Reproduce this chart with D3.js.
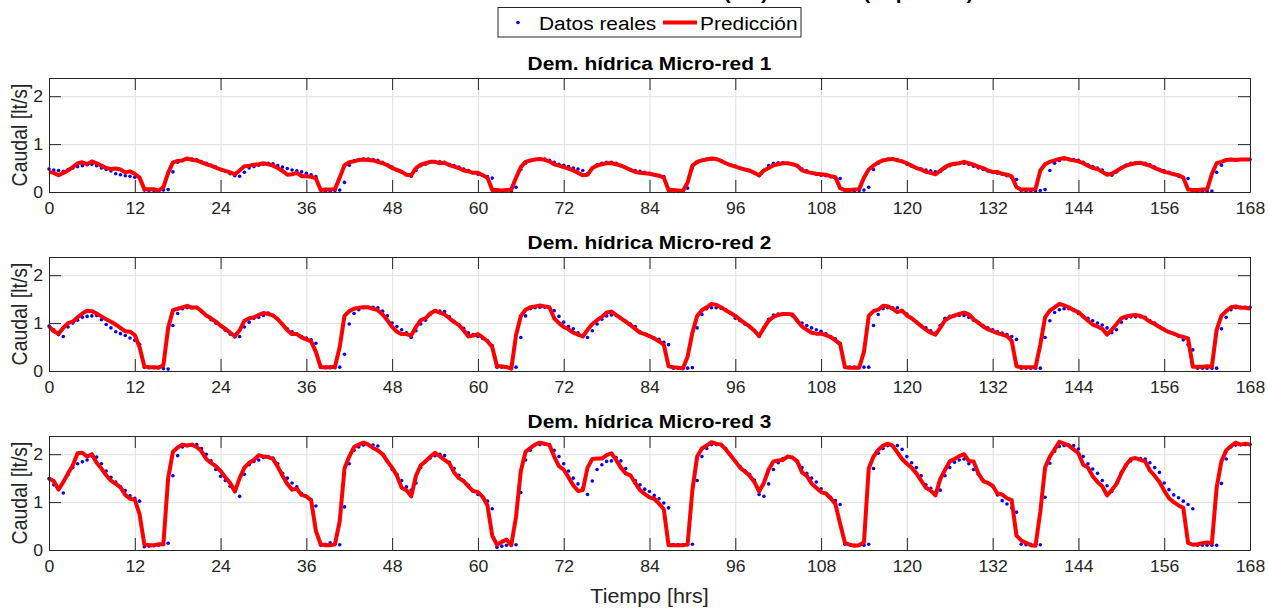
<!DOCTYPE html>
<html>
<head>
<meta charset="utf-8">
<script src="https://cdn.jsdelivr.net/npm/d3@7"></script>
<style>
  body { margin: 0; background: #fff; }
  svg { display: block; }
</style>
</head>
<body>
<svg id="chart" width="1268" height="610"></svg>
<script>
// ---- Data: flow (lt/s), one sample every 40 minutes over 168 h ----
const hourTicks = [0, 12, 24, 36, 48, 60, 72, 84, 96, 108, 120, 132, 144, 156, 168];
const flowTicks = [0, 1, 2];
const panelTitles = ["Dem. hídrica Micro-red 1", "Dem. hídrica Micro-red 2", "Dem. hídrica Micro-red 3"];
const legendLabels = ["Datos reales", "Predicción"];
const figureTitle = "Demanda hídrica real vs. estimada total (lt/s) semanal (Sep. 2022)";

const real1 = [
  0.48,0.46,0.45,0.43,0.47,0.50, 0.53,0.55,0.57,0.58,0.55,0.50, 0.47,0.44,0.38,0.36,0.34,0.33, 0.31,0.29,0.04,0.03,0.03,0.03, 0.04,0.05,0.42,0.62,0.66,0.69, 0.69,0.67,0.63,0.60,0.56,0.52,
  0.47,0.43,0.38,0.34,0.33,0.41, 0.50,0.53,0.56,0.58,0.60,0.59, 0.55,0.52,0.49,0.46,0.44,0.42, 0.39,0.36,0.32,0.04,0.02,0.02, 0.03,0.04,0.20,0.56,0.65,0.68, 0.69,0.69,0.68,0.66,0.62,0.57,
  0.52,0.46,0.42,0.36,0.33,0.45, 0.55,0.58,0.62,0.63,0.63,0.62, 0.58,0.55,0.52,0.48,0.45,0.40, 0.37,0.35,0.32,0.29,0.02,0.01, 0.01,0.01,0.10,0.47,0.60,0.65, 0.68,0.69,0.69,0.66,0.62,0.58,
  0.56,0.53,0.50,0.48,0.45,0.38, 0.50,0.57,0.60,0.62,0.62,0.60, 0.55,0.51,0.47,0.45,0.43,0.41, 0.39,0.36,0.34,0.32,0.02,0.01, 0.01,0.02,0.08,0.50,0.62,0.66, 0.69,0.69,0.68,0.65,0.60,0.57,
  0.54,0.50,0.47,0.44,0.40,0.34, 0.45,0.55,0.60,0.61,0.61,0.60, 0.58,0.54,0.48,0.44,0.40,0.37, 0.35,0.34,0.32,0.30,0.28,0.03, 0.02,0.02,0.03,0.04,0.10,0.47, 0.60,0.66,0.69,0.69,0.68,0.64,
  0.58,0.54,0.50,0.48,0.46,0.44, 0.42,0.43,0.50,0.55,0.58,0.60, 0.60,0.58,0.54,0.50,0.47,0.44, 0.41,0.39,0.37,0.34,0.30,0.26, 0.03,0.02,0.02,0.02,0.03,0.05, 0.45,0.60,0.66,0.69,0.69,0.68,
  0.66,0.62,0.57,0.53,0.50,0.46, 0.38,0.35,0.42,0.50,0.56,0.60, 0.61,0.61,0.60,0.57,0.52,0.47, 0.44,0.41,0.37,0.33,0.30,0.28, 0.02,0.01,0.01,0.01,0.02,0.41, 0.56,0.66,0.68,0.68,0.68,0.68,
  0.68
];
const pred1 = [
  0.42,0.40,0.35,0.40,0.45,0.52, 0.60,0.62,0.58,0.64,0.60,0.55, 0.50,0.48,0.49,0.47,0.41,0.43, 0.38,0.30,0.06,0.06,0.06,0.03, 0.10,0.40,0.62,0.65,0.66,0.70, 0.67,0.66,0.62,0.58,0.55,0.51,
  0.47,0.44,0.41,0.37,0.45,0.54, 0.55,0.57,0.58,0.60,0.58,0.55, 0.50,0.44,0.36,0.37,0.40,0.33, 0.33,0.32,0.28,0.04,0.05,0.05, 0.06,0.30,0.56,0.62,0.64,0.67, 0.68,0.67,0.66,0.63,0.60,0.56,
  0.50,0.46,0.42,0.36,0.35,0.50, 0.57,0.60,0.63,0.63,0.60,0.61, 0.56,0.53,0.50,0.45,0.43,0.40, 0.40,0.35,0.30,0.04,0.04,0.03, 0.04,0.05,0.30,0.52,0.63,0.66, 0.68,0.69,0.67,0.64,0.58,0.55,
  0.52,0.49,0.45,0.40,0.35,0.36, 0.50,0.55,0.58,0.60,0.60,0.58, 0.55,0.51,0.46,0.42,0.40,0.39, 0.38,0.36,0.34,0.30,0.04,0.04, 0.03,0.02,0.20,0.55,0.63,0.66, 0.68,0.70,0.69,0.65,0.60,0.56,
  0.53,0.50,0.47,0.45,0.40,0.35, 0.45,0.50,0.56,0.58,0.60,0.60, 0.58,0.55,0.45,0.42,0.40,0.38, 0.37,0.36,0.33,0.31,0.08,0.04, 0.04,0.05,0.06,0.30,0.47,0.55, 0.62,0.66,0.68,0.69,0.66,0.64,
  0.60,0.55,0.50,0.47,0.42,0.40, 0.37,0.44,0.52,0.57,0.59,0.60, 0.63,0.60,0.57,0.53,0.50,0.45, 0.42,0.42,0.38,0.36,0.33,0.10, 0.05,0.05,0.05,0.06,0.45,0.58, 0.63,0.66,0.69,0.71,0.68,0.66,
  0.64,0.60,0.55,0.50,0.48,0.42, 0.36,0.38,0.44,0.50,0.55,0.58, 0.60,0.61,0.58,0.55,0.50,0.46, 0.42,0.40,0.37,0.35,0.30,0.05, 0.04,0.04,0.05,0.05,0.38,0.60, 0.63,0.67,0.68,0.67,0.68,0.68,
  0.68
];
const real2 = [
  0.94,0.86,0.76,0.72,0.92,1.00, 1.06,1.12,1.14,1.15,1.16,1.07, 0.97,0.90,0.82,0.78,0.74,0.69, 0.64,0.56,0.08,0.07,0.07,0.07, 0.05,0.04,0.95,1.20,1.30,1.32, 1.33,1.32,1.24,1.16,1.07,1.00,
  0.94,0.85,0.77,0.71,0.72,0.92, 1.02,1.10,1.12,1.16,1.21,1.16, 1.08,0.98,0.88,0.82,0.77,0.72, 0.69,0.65,0.58,0.08,0.07,0.07, 0.07,0.08,0.35,0.98,1.20,1.28, 1.32,1.33,1.33,1.32,1.25,1.15,
  1.00,0.93,0.86,0.80,0.70,0.84, 0.98,1.06,1.18,1.24,1.25,1.24, 1.13,1.04,0.96,0.89,0.80,0.76, 0.72,0.68,0.63,0.53,0.08,0.08, 0.08,0.08,0.08,0.70,1.15,1.30, 1.32,1.33,1.33,1.32,1.26,1.14,
  1.02,0.93,0.88,0.80,0.74,0.70, 0.84,0.98,1.08,1.15,1.17,1.16, 1.10,1.04,0.98,0.93,0.82,0.77, 0.72,0.69,0.66,0.60,0.55,0.06, 0.06,0.06,0.06,0.07,0.90,1.18, 1.30,1.32,1.32,1.31,1.28,1.21,
  1.10,1.05,0.98,0.92,0.85,0.72, 0.90,1.08,1.17,1.19,1.19,1.19, 1.15,1.06,1.00,0.95,0.90,0.86, 0.83,0.78,0.72,0.67,0.58,0.08, 0.08,0.08,0.08,0.08,0.08,0.95, 1.18,1.30,1.32,1.32,1.32,1.26,
  1.19,1.10,1.02,0.95,0.90,0.84, 0.79,0.95,1.10,1.14,1.15,1.16, 1.16,1.12,1.06,1.00,0.95,0.90, 0.86,0.82,0.79,0.76,0.72,0.66, 0.06,0.06,0.06,0.06,0.06,0.70, 1.05,1.22,1.28,1.30,1.30,1.28,
  1.20,1.14,1.10,1.05,1.00,0.96, 0.90,0.80,0.86,1.02,1.10,1.13, 1.13,1.13,1.12,1.05,1.00,0.93, 0.87,0.82,0.78,0.73,0.65,0.55, 0.44,0.06,0.06,0.06,0.06,0.06, 0.88,1.12,1.28,1.32,1.33,1.33,
  1.33
];
const pred2 = [
  0.93,0.83,0.78,0.90,1.00,1.03, 1.12,1.20,1.26,1.25,1.20,1.14, 1.08,1.03,0.97,0.90,0.83,0.82, 0.75,0.50,0.10,0.08,0.08,0.07, 0.12,0.90,1.27,1.30,1.33,1.36, 1.32,1.33,1.25,1.16,1.10,1.03,
  0.95,0.88,0.80,0.73,0.85,1.05, 1.10,1.12,1.17,1.21,1.19,1.16, 1.08,0.97,0.85,0.77,0.77,0.70, 0.66,0.62,0.40,0.08,0.08,0.08, 0.09,0.50,1.15,1.25,1.30,1.32, 1.33,1.33,1.30,1.27,1.18,1.06,
  0.92,0.82,0.77,0.77,0.74,0.92, 1.06,1.10,1.20,1.26,1.22,1.18, 1.10,1.02,0.96,0.85,0.72,0.74, 0.77,0.70,0.62,0.50,0.10,0.10, 0.08,0.05,0.75,1.15,1.28,1.33, 1.35,1.37,1.35,1.33,1.10,1.00,
  0.92,0.87,0.80,0.76,0.72,0.86, 0.98,1.06,1.13,1.22,1.24,1.17, 1.10,1.03,0.96,0.88,0.80,0.77, 0.73,0.68,0.62,0.55,0.10,0.08, 0.07,0.05,0.30,0.80,1.15,1.27, 1.33,1.40,1.38,1.33,1.27,1.21,
  1.15,1.07,1.00,0.93,0.84,0.73, 0.90,1.05,1.13,1.17,1.19,1.19, 1.18,1.05,0.93,0.86,0.80,0.78, 0.78,0.75,0.71,0.64,0.56,0.08, 0.07,0.07,0.07,0.40,1.15,1.25, 1.28,1.36,1.35,1.30,1.23,1.26,
  1.16,1.10,1.02,0.94,0.86,0.80, 0.76,0.90,1.06,1.12,1.16,1.19, 1.22,1.18,1.08,1.01,0.93,0.87, 0.83,0.79,0.76,0.73,0.63,0.10, 0.08,0.08,0.08,0.08,0.55,1.12, 1.26,1.33,1.40,1.37,1.33,1.27,
  1.23,1.14,1.05,0.97,0.93,0.88, 0.76,0.86,0.98,1.10,1.14,1.16, 1.17,1.15,1.10,1.03,0.98,0.92, 0.86,0.81,0.78,0.74,0.71,0.68, 0.09,0.09,0.09,0.10,0.09,0.86, 1.15,1.25,1.33,1.35,1.32,1.32,
  1.30
];
const real3 = [
  1.49,1.36,1.28,1.19,1.57,1.72, 1.80,1.84,1.88,1.96,1.94,1.80, 1.65,1.52,1.42,1.32,1.24,1.13, 1.08,1.02,0.07,0.08,0.09,0.10, 0.12,0.14,1.55,1.97,2.15,2.18, 2.19,2.20,2.12,2.00,1.86,1.68,
  1.54,1.45,1.33,1.22,1.12,1.58, 1.78,1.85,1.88,1.93,1.95,1.92, 1.80,1.60,1.50,1.40,1.32,1.18, 1.12,1.05,0.92,0.10,0.12,0.15, 0.13,0.11,0.90,1.80,2.08,2.15, 2.19,2.20,2.19,2.17,2.00,1.85,
  1.68,1.58,1.45,1.32,1.25,1.40, 1.72,1.84,1.92,1.97,2.00,1.97, 1.83,1.70,1.56,1.44,1.35,1.23, 1.16,1.10,1.02,0.86,0.06,0.08, 0.10,0.11,0.11,1.20,1.88,2.08, 2.20,2.20,2.21,2.20,2.08,1.95,
  1.80,1.65,1.50,1.38,1.30,1.16, 1.44,1.68,1.78,1.85,1.86,1.93, 1.86,1.70,1.55,1.45,1.36,1.27, 1.22,1.14,1.07,0.98,0.88,0.11, 0.11,0.11,0.11,0.12,1.45,1.95, 2.12,2.20,2.20,2.20,2.12,1.98,
  1.85,1.75,1.66,1.58,1.46,1.16, 1.12,1.38,1.68,1.82,1.91,1.95, 1.93,1.85,1.72,1.60,1.50,1.42, 1.28,1.18,1.10,1.03,0.95,0.12, 0.11,0.10,0.10,0.10,0.12,1.70, 2.02,2.12,2.18,2.18,2.18,2.10,
  1.95,1.82,1.72,1.55,1.36,1.29, 1.20,1.25,1.55,1.72,1.83,1.88, 1.90,1.80,1.68,1.58,1.46,1.40, 1.33,1.15,1.03,0.96,0.88,0.79, 0.12,0.11,0.12,0.12,0.11,1.10, 1.81,2.06,2.16,2.18,2.19,2.18,
  2.11,1.95,1.80,1.69,1.60,1.45, 1.34,1.22,1.40,1.62,1.76,1.86, 1.91,1.91,1.90,1.82,1.72,1.62, 1.40,1.26,1.15,1.09,1.02,0.95, 0.86,0.10,0.10,0.10,0.10,0.10, 1.39,1.90,2.15,2.19,2.20,2.20,
  2.20
];
const pred3 = [
  1.49,1.44,1.26,1.42,1.60,1.77, 2.02,2.03,1.95,2.00,1.82,1.70, 1.56,1.45,1.38,1.31,1.15,1.07, 1.05,0.75,0.12,0.10,0.10,0.12, 0.12,1.50,2.05,2.14,2.20,2.18, 2.20,2.15,2.06,1.90,1.82,1.75,
  1.65,1.52,1.40,1.22,1.50,1.72, 1.82,1.88,1.98,1.95,1.94,1.90, 1.74,1.55,1.38,1.26,1.28,1.15, 1.12,1.04,0.40,0.12,0.10,0.10, 0.12,0.60,1.70,1.95,2.15,2.20, 2.24,2.20,2.13,2.08,2.00,1.85,
  1.72,1.55,1.30,1.25,1.12,1.55, 1.77,1.85,1.95,2.03,1.96,1.88, 1.81,1.62,1.50,1.44,1.33,1.23, 1.21,1.11,0.93,0.30,0.11,0.17, 0.22,0.10,0.70,1.65,2.05,2.13, 2.20,2.24,2.22,2.19,1.95,1.75,
  1.68,1.52,1.35,1.23,1.25,1.72, 1.90,1.91,1.91,1.98,2.02,1.88, 1.72,1.60,1.56,1.40,1.25,1.17, 1.10,1.07,0.97,0.85,0.10,0.10, 0.10,0.10,0.12,1.25,1.95,2.12, 2.18,2.25,2.22,2.20,2.10,1.98,
  1.85,1.72,1.64,1.55,1.42,1.22, 1.40,1.68,1.85,1.87,1.88,1.95, 1.93,1.85,1.62,1.55,1.39,1.30, 1.21,1.18,1.08,0.96,0.55,0.15, 0.11,0.09,0.10,0.16,1.70,1.95, 2.09,2.18,2.22,2.18,2.04,1.90,
  1.80,1.72,1.60,1.45,1.30,1.24, 1.14,1.48,1.67,1.85,1.90,1.96, 2.00,1.86,1.85,1.60,1.44,1.40, 1.34,1.18,1.16,1.08,1.04,0.30, 0.20,0.15,0.10,0.09,0.80,1.72, 1.95,2.10,2.26,2.22,2.18,2.10,
  2.02,1.78,1.72,1.54,1.42,1.33, 1.14,1.25,1.38,1.60,1.78,1.90, 1.92,1.88,1.85,1.66,1.55,1.42, 1.24,1.08,1.00,0.93,0.88,0.15, 0.11,0.12,0.14,0.16,0.14,1.30, 1.85,2.08,2.17,2.24,2.20,2.22,
  2.20
];

// ---- Layout and style ----
const STEP = 2 / 3;                 // hours between samples
const FONT = '"Liberation Sans", Arial, Helvetica, sans-serif';
const INK = "#262626";
const GRID = "#e0e0e0";
const BLUE = "#0000ff";
const RED = "#ff0000";
const WIDEN = 1.1;                  // horizontal widening applied to all text
const plotLeft = 49, plotRight = 1250, panelH = 114;
const panelTops = [78, 257, 436];
const flowMax = 2.38;
const tickLen = 12;

const panels = [
  { title: panelTitles[0], real: real1, pred: pred1 },
  { title: panelTitles[1], real: real2, pred: pred2 },
  { title: panelTitles[2], real: real3, pred: pred3 }
];

const svg = d3.select("#chart").attr("font-family", FONT);
const x = d3.scaleLinear().domain([0, 168]).range([plotLeft, plotRight]);

function styleAxis(sel) {
  sel.attr("font-family", FONT).attr("font-size", 16);
  sel.select(".domain").attr("stroke", INK).attr("stroke-width", 1);
  sel.selectAll(".tick line").attr("stroke", INK).attr("stroke-width", 1);
  sel.selectAll(".tick text").attr("fill", INK);
}

panels.forEach((p, i) => {
  const top = panelTops[i];
  const bottom = top + panelH;
  const y = d3.scaleLinear().domain([0, flowMax]).range([bottom, top]);
  const g = svg.append("g");

  // grid
  g.append("g")
    .attr("transform", `translate(0,${bottom})`)
    .call(d3.axisBottom(x).tickValues(hourTicks).tickSize(-panelH).tickFormat(""))
    .call(a => a.select(".domain").remove())
    .call(a => a.selectAll("line").attr("stroke", GRID));
  g.append("g")
    .attr("transform", `translate(${plotLeft},0)`)
    .call(d3.axisLeft(y).tickValues(flowTicks).tickSize(-(plotRight - plotLeft)).tickFormat(""))
    .call(a => a.select(".domain").remove())
    .call(a => a.selectAll("line").attr("stroke", GRID));

  // measured data as dots
  g.append("g")
    .selectAll("circle")
    .data(p.real.map((v, k) => ({ t: k * STEP, v })))
    .join("circle")
    .attr("cx", d => x(d.t))
    .attr("cy", d => y(d.v))
    .attr("r", 1.8)
    .attr("fill", BLUE);

  // prediction as a thick line
  const line = d3.line().x(d => x(d.t)).y(d => y(d.v));
  g.append("path")
    .datum(p.pred.map((v, k) => ({ t: k * STEP, v })))
    .attr("d", line)
    .attr("fill", "none")
    .attr("stroke", RED)
    .attr("stroke-width", 4)
    .attr("stroke-linejoin", "round");

  // axes box with inward ticks
  g.append("g")
    .attr("transform", `translate(0,${bottom})`)
    .call(d3.axisBottom(x).tickValues(hourTicks).tickSize(-tickLen).tickSizeOuter(0).tickPadding(11).tickFormat(d3.format("d")))
    .call(styleAxis)
    .call(a => a.selectAll(".tick text").attr("transform", `scale(${WIDEN},1)`));
  g.append("g")
    .attr("transform", `translate(0,${top})`)
    .call(d3.axisTop(x).tickValues(hourTicks).tickSize(-tickLen).tickSizeOuter(0).tickFormat(""))
    .call(styleAxis);
  g.append("g")
    .attr("transform", `translate(${plotLeft},0)`)
    .call(d3.axisLeft(y).tickValues(flowTicks).tickSize(-tickLen).tickSizeOuter(0).tickPadding(5.5).tickFormat(d3.format("d")))
    .call(styleAxis)
    .call(a => a.selectAll(".tick text").attr("transform", `scale(${WIDEN},1)`));
  g.append("g")
    .attr("transform", `translate(${plotRight},0)`)
    .call(d3.axisRight(y).tickValues(flowTicks).tickSize(-tickLen).tickSizeOuter(0).tickFormat(""))
    .call(styleAxis);

  // y label
  g.append("text")
    .attr("transform", `translate(27,${(top + bottom) / 2}) scale(${WIDEN},1) rotate(-90)`)
    .attr("text-anchor", "middle")
    .attr("font-size", 19.5)
    .attr("fill", INK)
    .text("Caudal [lt/s]");

  // panel title
  g.append("text")
    .attr("transform", `translate(${(plotLeft + plotRight) / 2},${top - 8}) scale(${WIDEN},1)`)
    .attr("text-anchor", "middle")
    .attr("font-size", 19)
    .attr("font-weight", "bold")
    .attr("fill", "#000")
    .text(p.title);
});

// x label
svg.append("text")
  .attr("transform", `translate(${(plotLeft + plotRight) / 2},603) scale(${WIDEN},1)`)
  .attr("text-anchor", "middle")
  .attr("font-size", 19.5)
  .attr("fill", INK)
  .text("Tiempo [hrs]");

// figure title (runs off the top edge; only its descenders remain in view)
svg.append("text")
  .attr("transform", `translate(${(plotLeft + plotRight) / 2},-1.5) scale(${WIDEN},1)`)
  .attr("text-anchor", "middle")
  .attr("font-size", 19)
  .attr("font-weight", "bold")
  .attr("fill", "#000")
  .text(figureTitle);

// legend
const lg = svg.append("g");
lg.append("rect")
  .attr("x", 498).attr("y", 7.5).attr("width", 303).attr("height", 29.5)
  .attr("fill", "#fff").attr("stroke", INK).attr("stroke-width", 1);
lg.append("circle").attr("cx", 518).attr("cy", 22.5).attr("r", 1.8).attr("fill", BLUE);
lg.append("text")
  .attr("transform", `translate(539,29.5) scale(${WIDEN},1)`)
  .attr("font-size", 19).attr("fill", "#000").text(legendLabels[0]);
lg.append("line")
  .attr("x1", 663).attr("x2", 697).attr("y1", 22.5).attr("y2", 22.5)
  .attr("stroke", RED).attr("stroke-width", 4);
lg.append("text")
  .attr("transform", `translate(700,29.5) scale(${WIDEN},1)`)
  .attr("font-size", 19).attr("fill", "#000").text(legendLabels[1]);
</script>
</body>
</html>
